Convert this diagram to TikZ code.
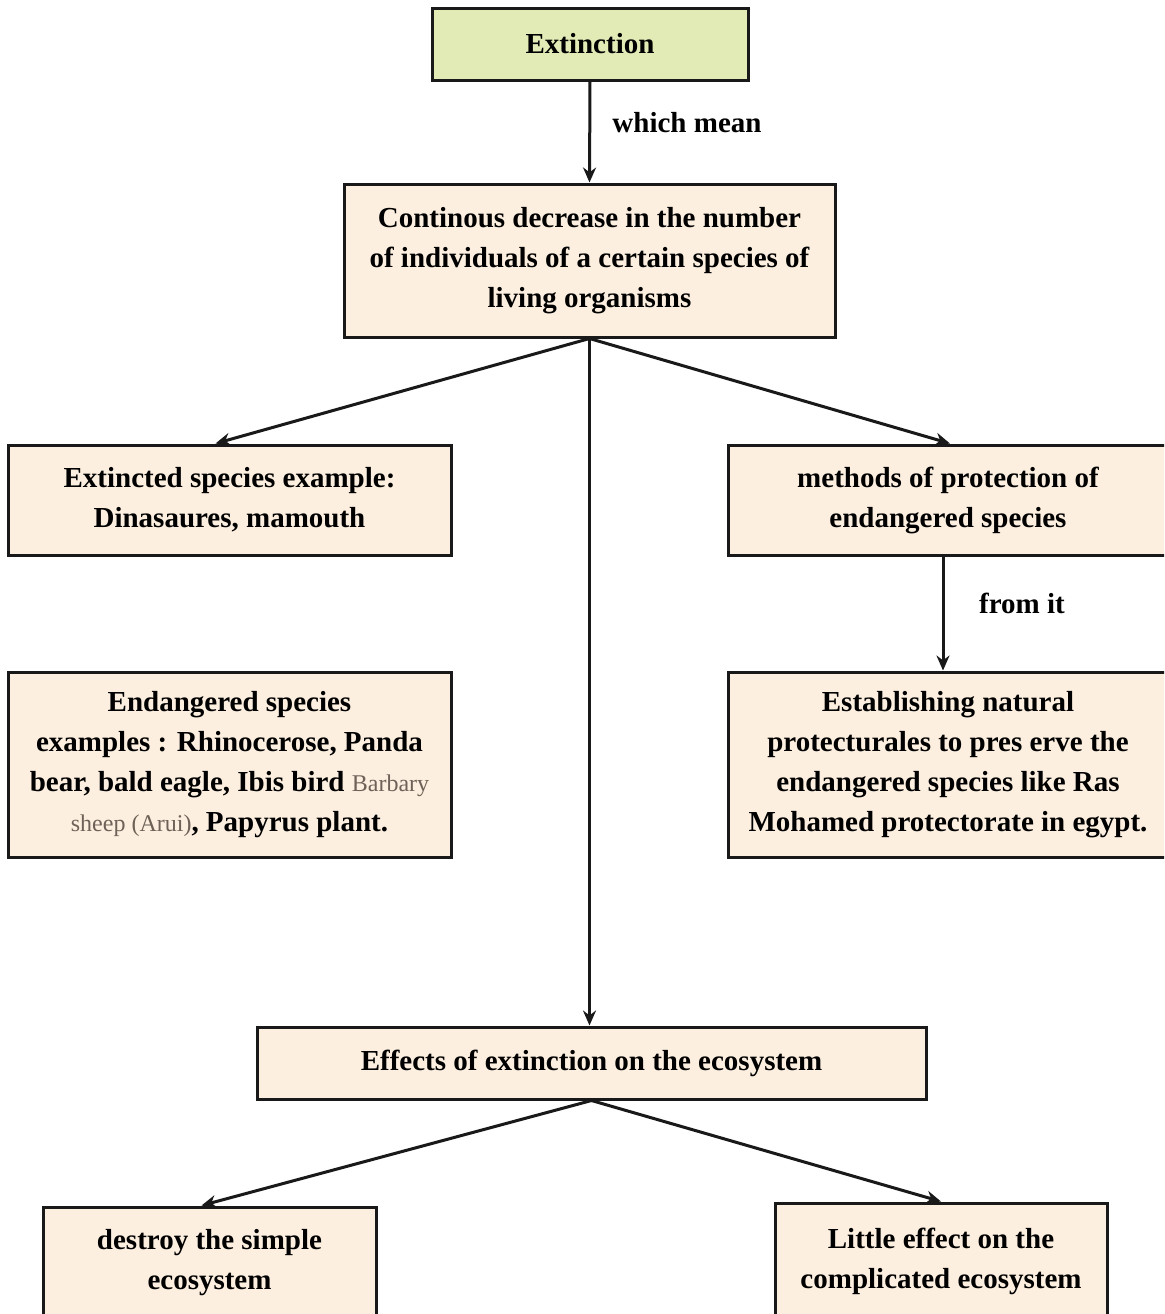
\documentclass[tikz,border=0pt]{standalone}
\usepackage{fontspec}
\setmainfont{Liberation Serif}
\usetikzlibrary{arrows.meta}
\definecolor{greenbox}{HTML}{E2EBB5}
\definecolor{peachbox}{HTML}{FCEFDF}
\definecolor{greytext}{HTML}{6E6258}
\tikzset{
  box/.style={draw=black!90, line width=1.5pt, fill=peachbox, inner sep=0pt, align=center,
    font=\fontsize{14.5}{20}\selectfont\bfseries},
  topbox/.style={box, fill=greenbox},
  conn/.style={line width=1.5pt, draw=black!90, -{Stealth[length=7.5pt,width=6.5pt]}},
  lbl/.style={font=\fontsize{14.5}{20}\selectfont\bfseries, inner sep=0pt}
}
\begin{document}
\begin{tikzpicture}[x=0.5pt,y=-0.5pt]
\useasboundingbox (0,0) rectangle (1164,1314);
\clip (0,0) rectangle (1164,1314);
\fill[white] (0,0) rectangle (1164,1314);

\node[topbox, minimum width=158pt, minimum height=36pt] (ext) at (590,44) {Extinction};
\node[box, minimum width=245.5pt, minimum height=76.5pt] (cont) at (589.5,260.5)
  {Continous decrease in the number\\of individuals of a certain species of\\living organisms};
\node[box, minimum width=221.5pt, minimum height=55pt] (exs) at (229.5,500)
  {Extincted species example:\\Dinasaures, mamouth};
\node[box, minimum width=220pt, minimum height=55pt] (meth) at (948,500)
  {methods of protection of\\endangered species};
\node[box, minimum width=221.5pt, minimum height=92.5pt] (endg) at (229.5,764.5)
  {Endangered species\\examples : Rhinocerose, Panda\\bear, bald eagle, Ibis bird {\mdseries\fontsize{12}{20}\selectfont\color{greytext}Barbary}\\{\mdseries\fontsize{12}{20}\selectfont\color{greytext}sheep (Arui)}, Papyrus plant.};
\node[box, minimum width=220pt, minimum height=92.5pt] (est) at (948,764.5)
  {Establishing natural\\protecturales to pres erve the\\endangered species like Ras\\Mohamed protectorate in egypt.};
\node[box, minimum width=334.5pt, minimum height=36pt] (eff) at (591.5,1063)
  {Effects of extinction on the ecosystem};
\node[box, minimum width=166.5pt, minimum height=55.5pt] (des) at (209.5,1262.5)
  {destroy the simple\\ecosystem};
\node[box, minimum width=166pt, minimum height=58pt] (lit) at (941,1261)
  {Little effect on the\\complicated ecosystem};

\draw[conn] (ext.south) -- (cont.north);
\node[lbl] (l1) at (687,123) {which mean};
\draw[conn] (cont.south) -- ([xshift=-7pt]exs.north);
\draw[conn] (cont.south) -- ([xshift=1pt]meth.north);
\draw[conn] (cont.south) -- (cont.south |- eff.north);
\draw[conn] ([xshift=-2.5pt]meth.south) -- ([xshift=-2.5pt]est.north);
\node[lbl] (l2) at (1022,603) {from it};
\draw[conn] (eff.south) -- ([xshift=-4pt]des.north);
\draw[conn] (eff.south) -- (lit.north);
\end{tikzpicture}
\end{document}
